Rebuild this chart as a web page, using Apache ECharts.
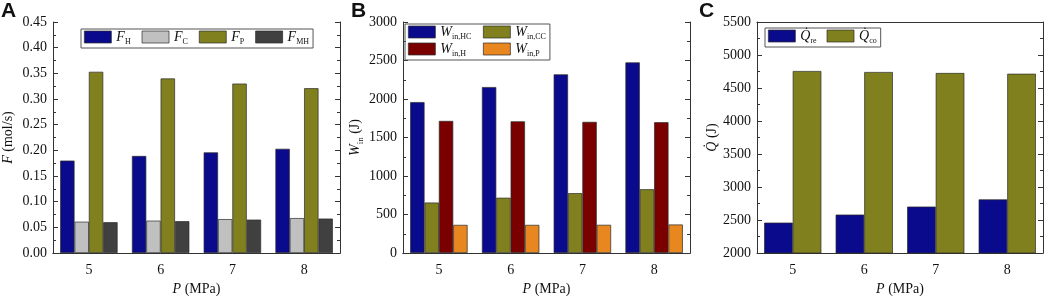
<!DOCTYPE html>
<html lang="en" style="height: 100%">
<head>
<meta charset="utf-8">
<title>Flow rate, work and heat vs pressure</title>
</head>
<body style="height: 100%; margin: 0; background: #fff">
<div id="container" style="width: 1045px; height: 296px"></div>
<script type="text/javascript" src="https://cdn.jsdelivr.net/npm/echarts@6/dist/echarts.min.js"></script>
<script type="text/javascript">
// pressure levels (MPa)
var categories = ['5', '6', '7', '8'];

// panel A: molar flow rates (mol/s)
var fH = [0.180, 0.189, 0.196, 0.203];
var fC = [0.061, 0.063, 0.066, 0.068];
var fP = [0.353, 0.340, 0.330, 0.321];
var fMH = [0.060, 0.062, 0.065, 0.067];

// panel B: input work (J)
var wHC = [1960, 2155, 2320, 2475];
var wCC = [655, 718, 777, 828];
var wH = [1715, 1710, 1703, 1698];
var wP = [365, 365, 366, 370];

// panel C: heat (J)
var qRe = [2460, 2582, 2703, 2812];
var qCo = [4757, 4742, 4727, 4716];

var dom = document.getElementById('container');
var myChart = echarts.init(dom);

var serif = 'Liberation Serif';
var ink = '#333';
var rich = {
  i: { fontFamily: serif, fontStyle: 'italic', fontSize: 14, lineHeight: 14, verticalAlign: 'top', color: '#111' },
  s: { fontFamily: serif, fontSize: 8, lineHeight: 10, padding: [8, 0, 0, 0], verticalAlign: 'top', color: '#111' },
  // fixed-width subscript so the second legend column lines up
  sw: { fontFamily: serif, fontSize: 8, lineHeight: 10, padding: [8, 0, 0, 0], verticalAlign: 'top', color: '#111', width: 30 },
  n: { fontFamily: serif, fontSize: 14, lineHeight: 14, verticalAlign: 'top', color: '#111' },
  ya: { fontFamily: serif, fontSize: 9, lineHeight: 10, padding: [8, 0, 0, 0], verticalAlign: 'top', color: '#111' }
};

var grids = [
  { left: 53, width: 287, top: 22, bottom: 43 },
  { left: 403, width: 287, top: 22, bottom: 43 },
  { left: 757, width: 286, top: 22, bottom: 43 }
];
var yRanges = [
  { min: 0, max: 0.45, interval: 0.05, fmt: function (v) { return v.toFixed(2); } },
  { min: 0, max: 3000, interval: 500, fmt: function (v) { return v; } },
  { min: 2000, max: 5500, interval: 500, fmt: function (v) { return v; } }
];
var yNames = ['{i|F}{n| (mol/s)}', '{i|W}{ya|in}{n| (J)}', '{i|Q\u0307}{n| (J)}'];
var yGaps = [38, 40, 38];

var xAxes = [], yAxes = [];
grids.forEach(function (g, k) {
  xAxes.push({
    type: 'category', gridIndex: k, position: 'bottom', data: categories,
    axisLine: { lineStyle: { color: ink, width: 1 } },
    axisTick: { inside: true, length: 5, lineStyle: { color: ink } },
    axisLabel: { fontFamily: serif, fontSize: 14, color: '#111', margin: 10 },
    name: '{i|P}{n| (MPa)}', nameLocation: 'middle', nameGap: 24,
    nameTextStyle: { rich: rich }
  });
  xAxes.push({
    type: 'category', gridIndex: k, position: 'top', data: categories,
    axisLine: { lineStyle: { color: ink, width: 1 } },
    axisTick: { inside: true, length: 5, alignWithLabel: true, lineStyle: { color: ink } },
    axisLabel: { show: false }
  });
  var r = yRanges[k];
  yAxes.push({
    type: 'value', gridIndex: k, position: 'left',
    min: r.min, max: r.max, interval: r.interval,
    axisLine: { show: true, lineStyle: { color: ink, width: 1 } },
    axisTick: { show: true, inside: true, length: 5, lineStyle: { color: ink } },
    minorTick: { show: true, splitNumber: 2, length: 3, lineStyle: { color: ink } },
    splitLine: { show: false },
    axisLabel: { fontFamily: serif, fontSize: 14, color: '#111', margin: 6, formatter: r.fmt },
    name: yNames[k], nameLocation: 'middle', nameRotate: 90, nameGap: yGaps[k],
    nameTextStyle: { rich: rich }
  });
  yAxes.push({
    type: 'value', gridIndex: k, position: 'right',
    min: r.min, max: r.max, interval: r.interval,
    axisLine: { show: true, lineStyle: { color: ink, width: 1 } },
    axisTick: { show: true, inside: true, length: 5, lineStyle: { color: ink } },
    minorTick: { show: true, splitNumber: 2, length: 3, lineStyle: { color: ink } },
    splitLine: { show: false },
    axisLabel: { show: false }
  });
});

function bar(name, data, k, color) {
  return {
    name: name, type: 'bar', data: data,
    xAxisIndex: 2 * k, yAxisIndex: 2 * k,
    barGap: '0%', barCategoryGap: '20%',
    itemStyle: { color: color, borderColor: '#2b2b2b', borderWidth: 0.7 },
    emphasis: { disabled: true }
  };
}

var navy = '#0a0a8c', gray = '#c0c0c0', olive = '#80801f', dark = '#404040',
    maroon = '#7a0000', orange = '#e8861f';

var labels = {
  fH: '{i|F}{s|H}', fC: '{i|F}{s|C}', fP: '{i|F}{s|P}', fMH: '{i|F}{s|MH}',
  wHC: '{i|W}{sw|in,HC}', wCC: '{i|W}{s|in,CC}', wH: '{i|W}{sw|in,H}', wP: '{i|W}{s|in,P}',
  qRe: '{i|Q\u0307}{s|re}', qCo: '{i|Q\u0307}{s|co}'
};

function legend(names, pos) {
  return Object.assign({
    data: names,
    itemWidth: 27, itemHeight: 12,
    borderColor: '#555', borderWidth: 1, borderRadius: 0,
    padding: [1, 4, 2, 3],
    selectedMode: false,
    icon: 'rect',
    itemStyle: { borderColor: '#2b2b2b', borderWidth: 0.7 },
    formatter: function (n) { return labels[n]; },
    textStyle: { rich: rich }
  }, pos);
}

var option = {
  animation: false,
  backgroundColor: '#fff',
  grid: grids.map(function (g) {
    return Object.assign({ show: false, containLabel: false, outerBoundsMode: 'none' }, g);
  }),
  xAxis: xAxes,
  yAxis: yAxes,
  legend: [
    legend(['fH', 'fC', 'fP', 'fMH'], { left: 81, top: 29, itemGap: 11 }),
    legend(['wHC', 'wCC', 'wH', 'wP'], { left: 405, top: 24, width: 150, itemGap: 1 }),
    legend(['qRe', 'qCo'], { left: 765, top: 28, itemGap: 10 })
  ],
  graphic: [
    { type: 'text', left: 1, top: 1, style: { text: 'A', font: 'bold 21px "Liberation Sans"', fill: '#111' } },
    { type: 'text', left: 351, top: 1, style: { text: 'B', font: 'bold 21px "Liberation Sans"', fill: '#111' } },
    { type: 'text', left: 699, top: 1, style: { text: 'C', font: 'bold 21px "Liberation Sans"', fill: '#111' } }
  ],
  series: [
    bar('fH', fH, 0, navy),
    bar('fC', fC, 0, gray),
    bar('fP', fP, 0, olive),
    bar('fMH', fMH, 0, dark),
    bar('wHC', wHC, 1, navy),
    bar('wCC', wCC, 1, olive),
    bar('wH', wH, 1, maroon),
    bar('wP', wP, 1, orange),
    bar('qRe', qRe, 2, navy),
    bar('qCo', qCo, 2, olive)
  ]
};

myChart.setOption(option);
window.addEventListener('resize', myChart.resize);
</script>
</body>
</html>
